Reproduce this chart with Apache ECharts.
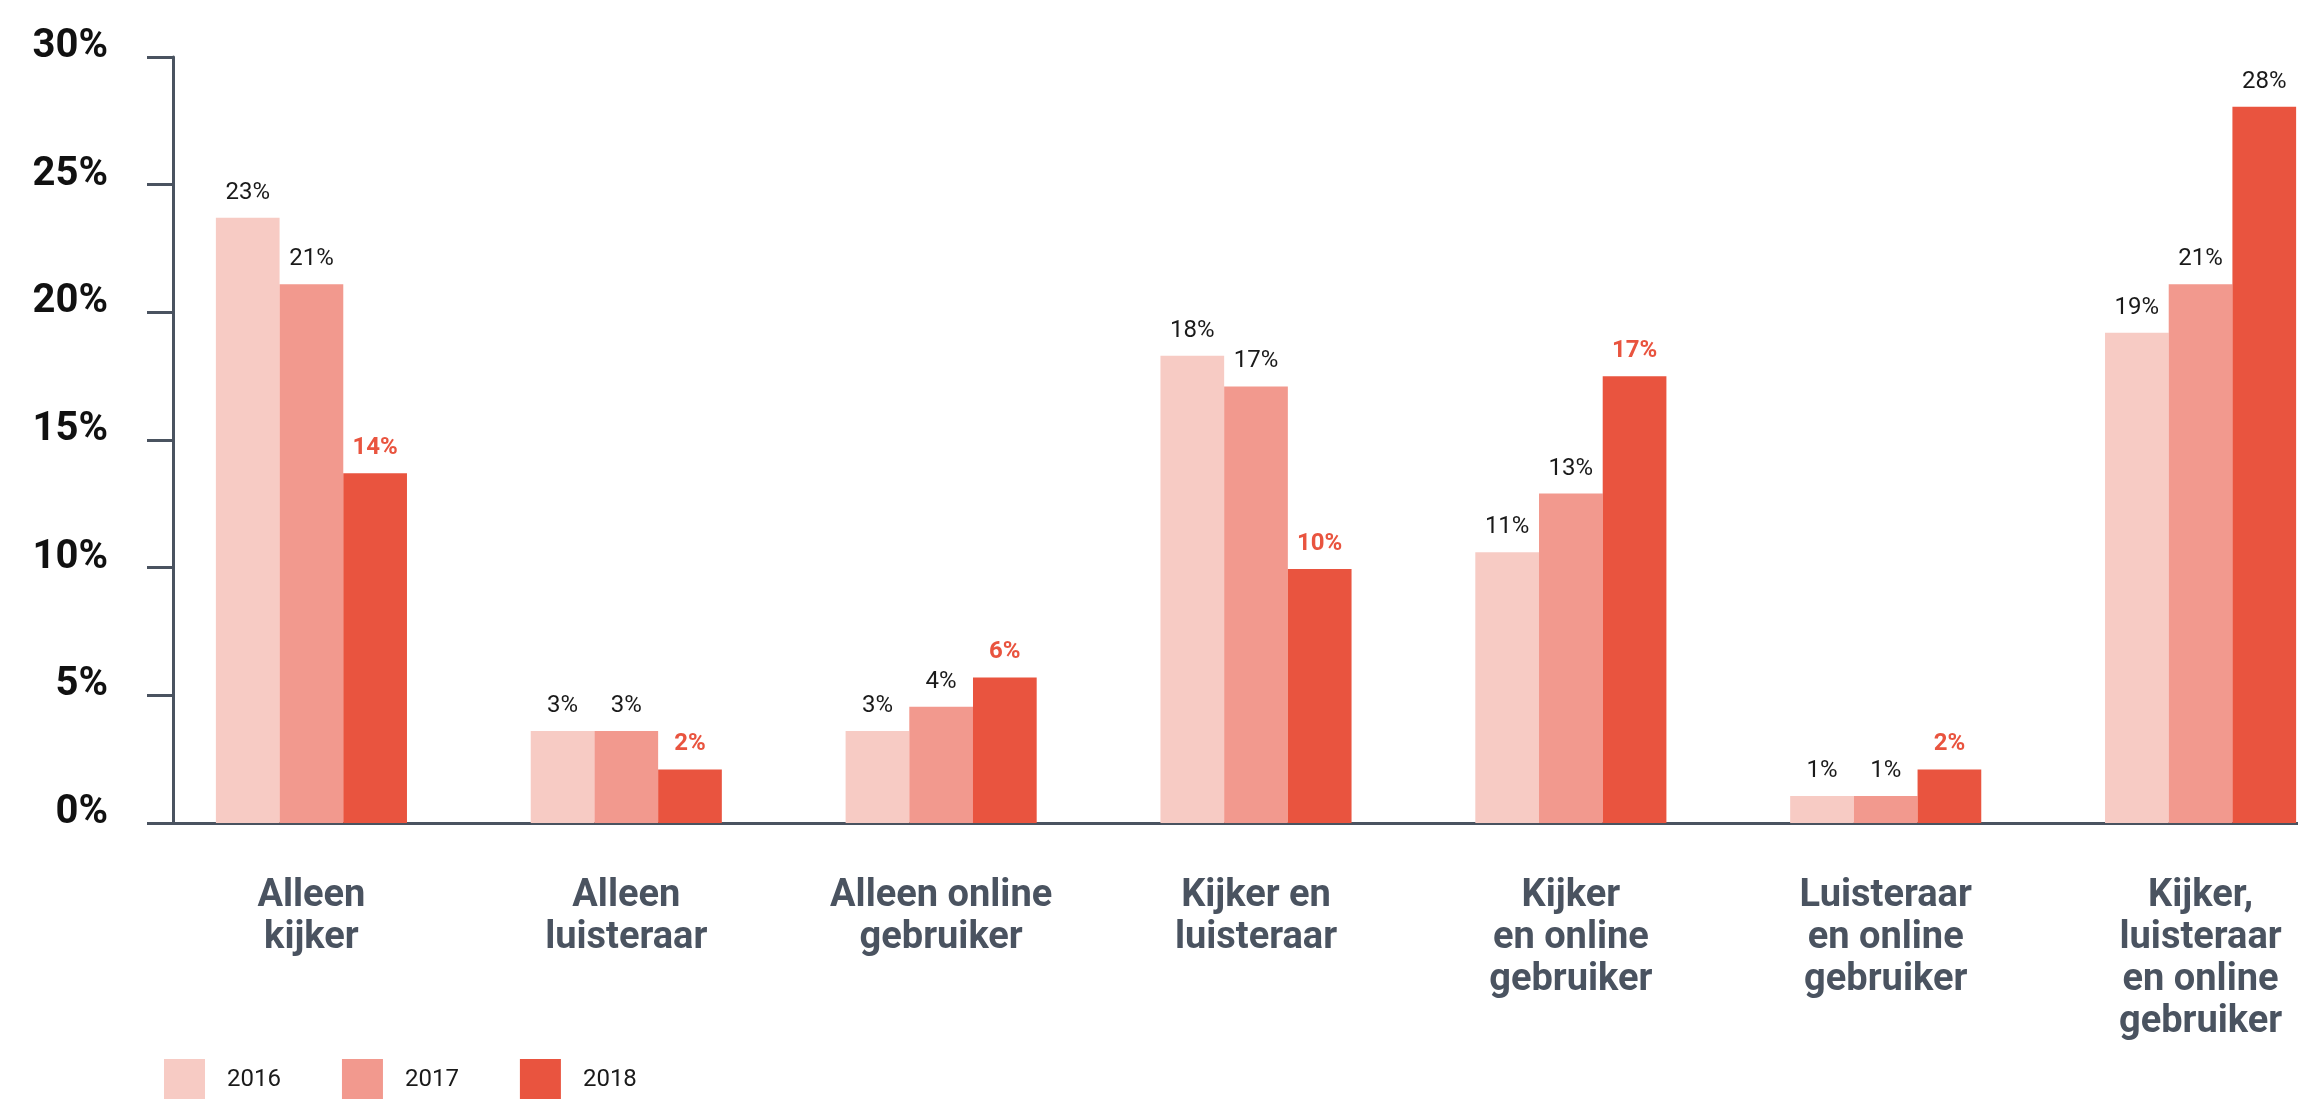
<!DOCTYPE html>
<html>
<head>
<meta charset="utf-8">
<script src="https://cdn.jsdelivr.net/npm/echarts@6/dist/echarts.min.js"></script>
<style>
  html, body { margin: 0; padding: 0; background: #fff; }
  #chart { width: 2298px; height: 1099px; }
</style>
</head>
<body>
<div id="chart"></div>
<script>
// categories on the x axis
const categories = [
  'Alleen\nkijker',
  'Alleen\nluisteraar',
  'Alleen online\ngebruiker',
  'Kijker en\nluisteraar',
  'Kijker\nen online\ngebruiker',
  'Luisteraar\nen online\ngebruiker',
  'Kijker,\nluisteraar\nen online\ngebruiker'
]
const years = ['2016', '2017', '2018']

// bar heights (%)
const values2016 = [23.7, 3.6, 3.6, 18.3, 10.6, 1.06, 19.2]
const values2017 = [21.1, 3.6, 4.55, 17.1, 12.9, 1.06, 21.1]
const values2018 = [13.7, 2.1, 5.7, 9.95, 17.5, 2.1, 28.05]

// printed value labels
const labels2016 = [23, 3, 3, 18, 11, 1, 19]
const labels2017 = [21, 3, 4, 17, 13, 1, 21]
const labels2018 = [14, 2, 6, 10, 17, 2, 28]

const yMin = 0
const yMax = 30
const yStep = 5

const colors = ['#F7CBC4', '#F2998E', '#E9543F']
const textDark = '#1a1a1a'
const axisColor = '#4a5360'
const font = 'Roboto'

const chart = echarts.init(document.getElementById('chart'), null, { renderer: 'canvas' })

const valueLabel = (labels) => ({
  show: true,
  position: 'top',
  distance: 13,
  fontFamily: font,
  fontSize: 24,
  color: textDark,
  formatter: (p) => labels[p.dataIndex] + '%'
})

const data2018 = values2018.map((v, i) => {
  if (i === values2018.length - 1) {
    return { value: v, label: { color: textDark, fontWeight: 'normal' } }
  }
  return v
})

const option = {
  backgroundColor: '#fff',
  animation: false,
  color: colors,
  grid: {
    left: 154,
    width: 2204,
    top: 57,
    bottom: 276,
    containLabel: false,
    outerBoundsMode: 'none'
  },
  legend: {
    data: years,
    left: 164,
    top: 1059,
    padding: 0,
    icon: 'rect',
    itemWidth: 41,
    itemHeight: 41,
    itemGap: 61,
    textStyle: {
      fontFamily: font,
      fontSize: 24,
      color: textDark,
      padding: [9, 0, 0, 17]
    }
  },
  xAxis: {
    type: 'category',
    data: categories,
    axisLine: { show: true, lineStyle: { color: axisColor, width: 3 } },
    axisTick: { show: false },
    axisLabel: {
      interval: 0,
      margin: 52,
      fontFamily: font,
      fontSize: 38,
      fontWeight: 'bold',
      lineHeight: 42,
      color: axisColor,
      align: 'center'
    }
  },
  yAxis: {
    type: 'value',
    min: yMin,
    max: yMax,
    interval: yStep,
    offset: -19,
    axisLine: { show: true, lineStyle: { color: axisColor, width: 3 } },
    axisTick: { show: true, inside: false, length: 26, lineStyle: { color: axisColor, width: 3 } },
    splitLine: { show: false },
    axisLabel: {
      margin: 65,
      verticalAlign: 'middle',
      formatter: (v) => '{t|' + v + '%}',
      rich: {
        t: {
          fontFamily: font,
          fontSize: 40,
          fontWeight: 'bold',
          color: '#111',
          padding: [0, 0, 20, 0]
        }
      }
    }
  },
  series: [
    {
      name: years[0],
      type: 'bar',
      data: values2016,
      barWidth: 63.7,
      barGap: '0%',
      label: valueLabel(labels2016)
    },
    {
      name: years[1],
      type: 'bar',
      data: values2017,
      barWidth: 63.7,
      barGap: '0%',
      label: valueLabel(labels2017)
    },
    {
      name: years[2],
      type: 'bar',
      data: data2018,
      barWidth: 63.7,
      barGap: '0%',
      label: Object.assign(valueLabel(labels2018), { color: colors[2], fontWeight: 'bold' })
    }
  ]
}

chart.setOption(option)
</script>
</body>
</html>
